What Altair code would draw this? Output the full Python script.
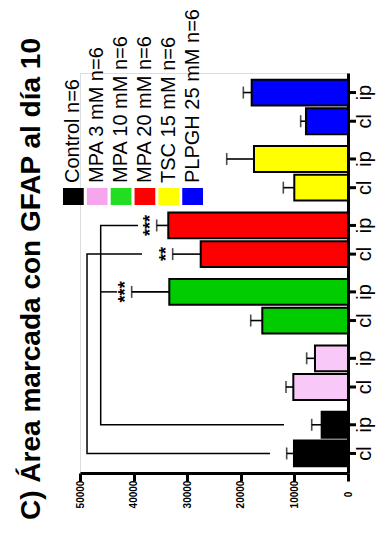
import altair as alt
import pandas as pd

groups = ["Control", "MPA 3 mM", "MPA 10 mM", "MPA 20 mM", "TSC 15 mM", "PLPGH 25 mM"]
legend_labels = ["Control n=6", "MPA 3 mM n=6", "MPA 10 mM n=6", "MPA 20 mM n=6",
                 "TSC 15 mM  n=6", "PLPGH 25 mM  n=6"]
routes = ["cl", "ip"]
bar_colors = ["#000000", "#F8C8F8", "#00CC00", "#FF0000", "#FFFF00", "#0000FF"]
legend_colors = ["#000000", "#F5A6EC", "#22DD22", "#FF0000", "#FFFF00", "#0000FF"]

mean_cl = [10080, 10200, 15990, 27480, 10020, 7840]
mean_ip = [4910, 6160, 33340, 33530, 17540, 17970]
sem_cl = [1360, 1370, 2160, 5230, 2050, 990]
sem_ip = [1860, 1550, 7020, 2160, 5090, 1560]
stars_cl = ["", "", "", "**", "", ""]
stars_ip = ["", "", "***", "***", "", ""]

# significance brackets, points in drawing order
bracket_id = ["a", "a", "a", "a", "b", "b", "b", "b", "c", "c"]
bracket_seq = [1, 2, 3, 4, 1, 2, 3, 4, 1, 2]
bracket_group = ["Control", "Control", "MPA 20 mM", "MPA 20 mM",
                 "Control", "Control", "MPA 20 mM", "MPA 20 mM",
                 "MPA 10 mM", "MPA 10 mM"]
bracket_route = ["cl", "cl", "cl", "cl", "ip", "ip", "ip", "ip", "ip", "ip"]
bracket_value = [14550, 48690, 48690, 38430, 11940, 46140, 46140, 39180, 46140, 43100]

axis_ticks = [0, 10000, 20000, 30000, 40000, 50000]
title_text = "C) Área marcada con GFAP al  día 10"

rows = []
for i, g in enumerate(groups):
    for r, m, s, st in (("cl", mean_cl[i], sem_cl[i], stars_cl[i]),
                        ("ip", mean_ip[i], sem_ip[i], stars_ip[i])):
        rows.append(dict(group=g, route=r, mean=m, sem=s, top=m + s, stars=st, color=bar_colors[i]))
df = pd.DataFrame(rows)

bdf = pd.DataFrame(dict(id=bracket_id, seq=bracket_seq, group=bracket_group,
                        route=bracket_route, value=bracket_value))
ldf = pd.DataFrame(dict(group=groups, label=legend_labels, color=legend_colors))

FONT = "Liberation Sans"

xscale = alt.Scale(domain=[0, 50000], reverse=True, nice=False, zero=True)
yscale = alt.Scale(domain=groups[::-1], paddingInner=0.18, paddingOuter=0.1)
yoff = alt.Scale(domain=["ip", "cl"], paddingInner=0.1, paddingOuter=0)

xaxis = alt.Axis(values=axis_ticks, format="d", labelAngle=270, labelAlign="center",
                 labelBaseline="middle", labelPadding=13, labelFontSize=10,
                 labelFontWeight="bold", labelFont=FONT, labelFlush=False, labelOverlap=False,
                 tickSize=8, tickWidth=3, tickColor="black", domainWidth=3,
                 domainColor="black", labelColor="black", grid=False, title=None)
yaxis = alt.Axis(orient="right", labels=False, ticks=False, title=None, domainWidth=3,
                 domainColor="black", grid=False)

Y = alt.Y("group:N", scale=yscale, axis=yaxis)
YO = alt.YOffset("route:N", scale=yoff)

base = alt.Chart(df)
bars = base.mark_bar(stroke="black", strokeWidth=2).encode(
    x=alt.X("mean:Q", scale=xscale, axis=xaxis),
    y=Y, yOffset=YO,
    fill=alt.Fill("color:N", scale=None),
)
errs = base.mark_rule(color="black", strokeWidth=1.6).encode(
    x=alt.X("mean:Q", scale=xscale), x2="top:Q", y=Y, yOffset=YO)
caps = base.mark_tick(orient="vertical", size=12, thickness=1.6, color="black").encode(
    x=alt.X("top:Q", scale=xscale), y=Y, yOffset=YO)
stars = base.transform_filter("datum.stars != ''").mark_text(
    angle=270, baseline="bottom", align="center", fontSize=18, fontWeight="bold",
    font=FONT, color="black", dy=3).encode(
    x=alt.X("top:Q", scale=xscale), y=Y, yOffset=YO, text="stars:N")
route_labels = base.mark_text(angle=270, baseline="alphabetic", align="center",
                              fontSize=20, font=FONT, color="black").encode(
    x=alt.value(291), y=Y, yOffset=YO, text="route:N")
route_ticks = base.mark_rule(color="black", strokeWidth=3).encode(
    x=alt.value(268), x2=alt.value(276), y=Y, yOffset=YO)
brackets = alt.Chart(bdf).mark_line(color="black", strokeWidth=1.5).encode(
    x=alt.X("value:Q", scale=xscale),
    y=alt.Y("group:N", scale=yscale),
    yOffset=alt.YOffset("route:N", scale=yoff),
    detail="id:N", order="seq:Q")

main = alt.layer(bars, errs, caps, stars, route_labels, route_ticks, brackets)

lx = alt.X("group:N", scale=alt.Scale(domain=groups, range=[-17, 123], paddingInner=0.13,
                                       paddingOuter=0), axis=None)
swatch = alt.Chart(ldf).mark_rect().encode(
    x=lx, y=alt.value(115), y2=alt.value(132), fill=alt.Fill("color:N", scale=None))
ltext = alt.Chart(ldf).mark_text(angle=270, align="left", baseline="middle", fontSize=20,
                                 font=FONT, color="black").encode(
    x=lx, y=alt.value(110), text="label:N")
legend = alt.layer(swatch, ltext)

chart = alt.layer(main, legend).resolve_scale(x="independent").properties(
    width=268, height=400,
    padding={"left": 72, "top": 65, "right": 28, "bottom": 63},
    autosize=alt.AutoSizeParams(type="none"),
    title=alt.TitleParams(title_text, orient="left", anchor="middle", fontSize=28,
                          fontWeight="bold", font=FONT, color="black", offset=17, dx=-6),
).configure_view(stroke=None).configure(font=FONT)

chart.save("out.html", embed_options={"renderer": "svg", "actions": False})
